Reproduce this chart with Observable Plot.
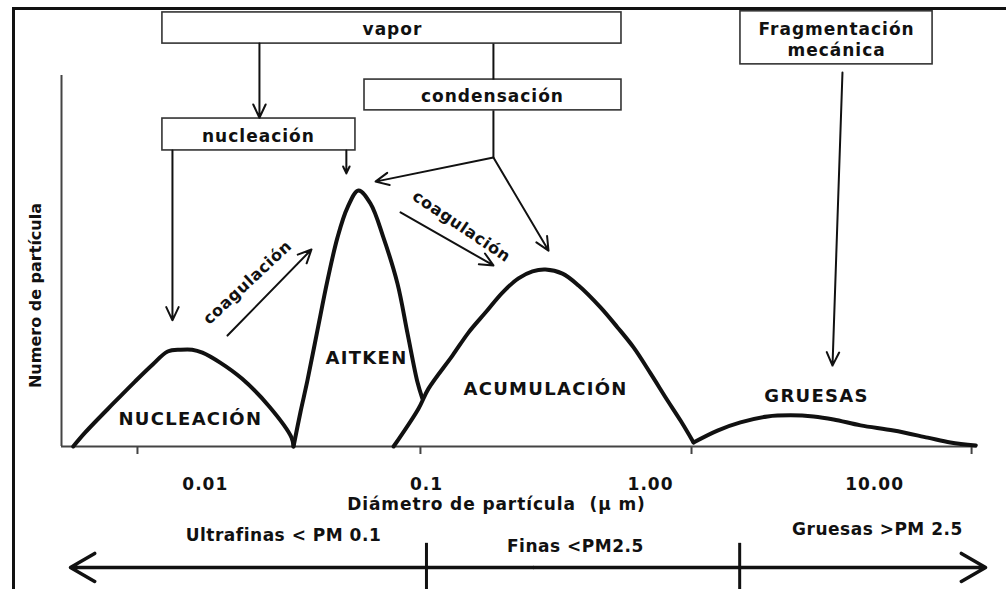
<!DOCTYPE html>
<html>
<head>
<meta charset="utf-8">
<script src="https://cdn.jsdelivr.net/npm/d3@7"></script>
<script src="https://cdn.jsdelivr.net/npm/@observablehq/plot@0.6"></script>
<style>
  html, body { margin: 0; padding: 0; background: #fff; }
  #wrap { position: relative; width: 1006px; height: 589px; overflow: hidden; }
  #frame { position: absolute; left: 12px; top: 7px; right: -5px; bottom: -5px;
           border-top: 3px solid #111; border-left: 3px solid #111; pointer-events: none; }
  svg text { white-space: pre; }
</style>
</head>
<body>
<div id="wrap"><div id="frame"></div></div>
<script>
// ---- size-distribution modes: [diameter (µm), particle number (relative)] ----
const nucleacion = [[0.00265,0],[0.003,3.8],[0.004,11.6],[0.005,17.5],[0.006,22.1],[0.007,25.6],[0.008,26.1],[0.009,26.1],[0.01,25.3],[0.012,22.6],[0.015,18.3],[0.02,10.6],[0.025,2.4],[0.0255,0]];
const aitken = [[0.0255,0],[0.0274,9.3],[0.02943,17.8],[0.03261,31.3],[0.03614,44.7],[0.04006,56.3],[0.0444,64.4],[0.0497,69.0],[0.05623,65.5],[0.06427,56.3],[0.07424,43.9],[0.0823,30.5],[0.0912,17.3],[0.0959,12.9]];
const acumulacion = [[0.0713,0],[0.0921,10.2],[0.1021,15.6],[0.1306,24.5],[0.154,30.7],[0.1834,36.1],[0.2184,41.5],[0.2574,45.3],[0.2973,47.2],[0.3398,47.7],[0.4046,46.6],[0.4772,43.4],[0.598,37.5],[0.7125,32.1],[0.84,26.7],[1.0,19.7],[1.191,12.4],[1.361,7.0],[1.556,1.1]];
const gruesas = [[1.556,1.1],[1.99,4.3],[2.52,6.5],[3.33,8.1],[4.22,8.4],[5.34,8.1],[6.56,7.3],[8.66,5.7],[12.16,4.3],[17.25,2.4],[21.8,1.1],[28.3,0.3]];

const modeNames = ["NUCLEACIÓN", "AITKEN", "ACUMULACIÓN", "GRUESAS"];
const modeLabelX = [0.00884, 0.054, 0.340, 5.51];
const modeLabelY = [7.3, 23.7, 15.4, 13.5];

// ---- axis ----
const xDomain = [0.00235, 28.8];
const tickMarks = [0.00513, 0.094, 1.524, 27.1];
const tickLabelValues = [0.0103, 0.1, 1, 10];
const tickLabels = ["0.01", "0.1", "1.00", "10.00"];
const xTitle = "Diámetro de partícula  (µ m)";
const yTitle = "Numero de partícula";

// ---- process boxes ----
const boxes = [
  {label: "vapor", x1: 0.00663, x2: 0.742, y1: 108.6, y2: 117.0, tx: 0.0705, ty: 112.8},
  {label: "condensación", x1: 0.0529, x2: 0.742, y1: 90.6, y2: 98.9, tx: 0.197, ty: 94.6},
  {label: "nucleación", x1: 0.00663, x2: 0.0482, y1: 79.8, y2: 88.4, tx: 0.01778, ty: 84.0},
  {label: "Fragmentación\nmecánica", x1: 2.52, x2: 18.15, y1: 103.0, y2: 117.3, tx: 6.77, ty: 110.0}
];
// ---- process arrows & connectors ----
const arrows = [
  {x1: 0.01797, y1: 108.6, x2: 0.01797, y2: 88.6},
  {x1: 0.00735, y1: 79.8, x2: 0.00735, y2: 34.0},
  {x1: 0.0439, y1: 79.8, x2: 0.0439, y2: 73.6},
  {x1: 0.199, y1: 77.9, x2: 0.0592, y2: 71.4},
  {x1: 0.199, y1: 77.9, x2: 0.3505, y2: 52.8},
  {x1: 0.01294, y1: 29.9, x2: 0.03067, y2: 53.1},
  {x1: 0.0766, y1: 63.1, x2: 0.199, y2: 48.8},
  {x1: 7.19, y1: 100.8, x2: 6.49, y2: 21.8}
];
const connectors = [
  {x1: 0.199, y1: 108.6, x2: 0.199, y2: 98.9},
  {x1: 0.199, y1: 90.6, x2: 0.199, y2: 77.9}
];
const coag = [
  {text: "coagulación", x: 0.01589, y: 44.2, rotate: -43},
  {text: "coagulación", x: 0.1433, y: 59.3, rotate: 34}
];
// ---- PM size classes under the axis ----
const classNames = ["Ultrafinas < PM 0.1", "Finas <PM2.5", "Gruesas >PM 2.5"];
const classX = [0.0230, 0.462, 10.3];
const classY = [-24.0, -27.0, -22.4];
const classBounds = [0.1, 2.5];
const classSpan = [0.002576, 31.3];

const table = (name, pts) => pts.map(([d, n]) => ({mode: name, d, n}));
const curves = [
  ...table("nucleacion", nucleacion),
  ...table("aitken", aitken),
  ...table("acumulacion", acumulacion),
  ...table("gruesas", gruesas)
];

const ink = "#111";
const plot = Plot.plot({
  width: 1006,
  height: 589,
  marginLeft: 61,
  marginRight: 29,
  marginTop: 75,
  marginBottom: 143,
  style: {fontFamily: "'DejaVu Sans', Verdana, sans-serif", fontSize: "17px", background: "transparent", color: ink},
  x: {type: "log", domain: xDomain, axis: null},
  y: {domain: [0, 100], axis: null},
  marks: [
    // axes lines
    Plot.ruleX([xDomain[0]], {y1: 0, y2: 100, stroke: "#444", strokeWidth: 2}),
    Plot.ruleY([0], {stroke: "#444", strokeWidth: 2}),
    Plot.axisX({ticks: tickMarks, tickSize: 8, tickFormat: () => "", stroke: "#444", strokeWidth: 2}),
    Plot.axisX({ticks: tickLabelValues, tickSize: 0, tickPadding: 31,
      tickFormat: d => tickLabels[tickLabelValues.indexOf(d)], fontSize: 17, fontWeight: "bold", fill: ink}),
    Plot.text([xTitle], {x: [0.2054], y: [-15.6], fontSize: 17, fontWeight: "bold", fill: ink}),
    Plot.text([yTitle], {x: [0.0018], y: [40.7], rotate: -90, fontSize: 16, fontWeight: "bold", fill: ink}),
    // curves
    Plot.line(curves, {x: "d", y: "n", z: "mode", curve: "catmull-rom", stroke: ink, strokeWidth: 4, strokeLinejoin: "round", strokeLinecap: "round"}),
    Plot.text(modeNames, {x: (d, i) => modeLabelX[i], y: (d, i) => modeLabelY[i], text: d => d, fontSize: 18, fontWeight: "bold", fill: ink}),
    // process boxes
    Plot.rect(boxes, {x1: "x1", x2: "x2", y1: "y1", y2: "y2", fill: "white", stroke: "#333", strokeWidth: 1.6}),
    Plot.text(boxes, {x: "tx", y: "ty", text: "label", fontSize: 17, fontWeight: "bold", lineHeight: 1.24, fill: ink}),
    Plot.link(connectors, {x1: "x1", y1: "y1", x2: "x2", y2: "y2", stroke: ink, strokeWidth: 2}),
    Plot.arrow(arrows, {x1: "x1", y1: "y1", x2: "x2", y2: "y2", stroke: ink, strokeWidth: 2, headLength: 11, headAngle: 50}),
    Plot.text(coag, {x: "x", y: "y", text: "text", rotate: "rotate", fontSize: 16, fontWeight: "bold", fill: ink}),
    // size classes
    Plot.text(classNames, {x: (d, i) => classX[i], y: (d, i) => classY[i], text: d => d, fontSize: 17, fontWeight: "bold", fill: ink}),
    Plot.ruleX(classBounds, {y1: -26.1, y2: -40, stroke: ink, strokeWidth: 3}),
    Plot.arrow(classSpan, {x1: 0.3, x2: d => d, y1: -32.6, y2: -32.6, stroke: ink, strokeWidth: 3.5, headLength: 12, headAngle: 60})
  ]
});
document.getElementById("wrap").insertBefore(plot, document.getElementById("frame"));
plot.style.position = "absolute";
plot.style.left = "0";
plot.style.top = "0";

// widen the bold lettering a little, like the stretched original
const spacing = new Map([
  ...modeNames.map(t => [t, "1.3px"]),
  ...boxes.map(b => [b.label.replace("\n", ""), "1px"]),
  ...tickLabels.map(t => [t, "1px"]),
  ...classNames.map(t => [t, "0.5px"]),
  [xTitle, "0.9px"],
  ["coagulación", "0.6px"]
]);
d3.select(plot).selectAll("text").each(function() {
  const s = spacing.get(this.textContent);
  if (s) this.style.letterSpacing = s;
});
</script>
</body>
</html>
